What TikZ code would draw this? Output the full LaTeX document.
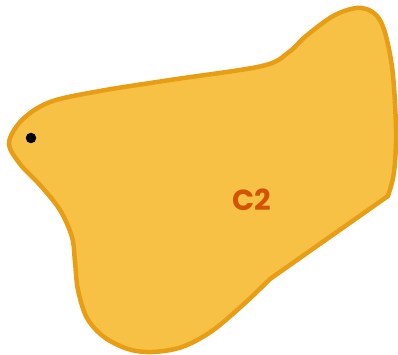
\documentclass[tikz,border=0pt]{standalone}
\usepackage{fontspec}
\newfontfamily\popfont{Poppins}
\definecolor{blobfill}{HTML}{F7C146}
\definecolor{blobline}{HTML}{E79E15}
\definecolor{labelcol}{HTML}{D35400}
\tikzset{
  blob/.style={fill=blobfill, draw=blobline, line width=4.5pt, line join=round},
  dotmark/.style={circle, fill=black, inner sep=0pt, minimum size=10.5pt},
  lbl/.style={text=labelcol, font=\popfont\bfseries\fontsize{29}{34}\selectfont, inner sep=0pt}
}
\begin{document}
\begin{tikzpicture}[x=1pt,y=-1pt]
\useasboundingbox (0,0) rectangle (398,355);
\draw[blob] plot[smooth, tension=0.55] coordinates {(388,196) (394,172) (396,130) (392,67) (381,22) (362,8) (335,15) (306,36) (289,52) (262,66) (170,80) (100,91) (50,102) (22,120) (9,143) (20,164) (40,185) (60,210) (72,237) (75,262) (78,290) (87,318) (104,337) (128,349) (152,352) (182,347) (212,331) (245,303) (270,279)} -- cycle;
\node[dotmark] (dot) at (31,138) {};
\node[lbl] (c2) at (252,200) {C2};
\end{tikzpicture}
\end{document}
